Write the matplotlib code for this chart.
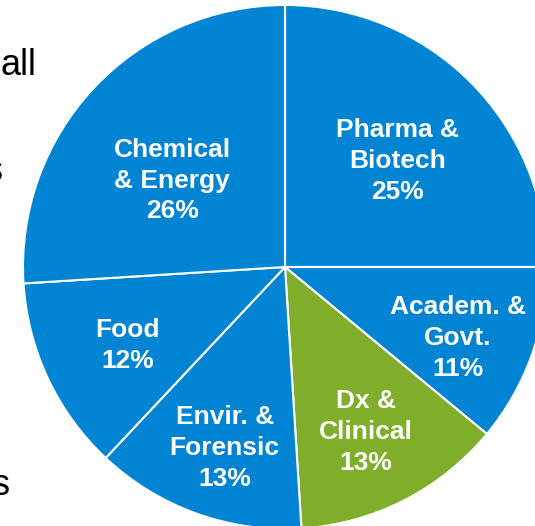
import matplotlib
matplotlib.use("Agg")
import matplotlib.pyplot as plt

sectors = ["Pharma &\nBiotech", "Academ. &\nGovt.", "Dx &\nClinical",
           "Envir. &\nForensic", "Food", "Chemical\n& Energy"]
shares = [25, 11, 13, 13, 12, 26]
blue = "#0084D3"
green = "#80AD2A"
colors = [blue, blue, green, blue, blue, blue]
# label centres, in units of the pie radius
label_xy = [(0.43, 0.405), (0.66, -0.27), (0.31, -0.63),
            (-0.23, -0.69), (-0.60, -0.30), (-0.43, 0.33)]

plt.rcParams['font.family'] = ['Liberation Sans', 'DejaVu Sans']

W, H = 535, 526
fig = plt.figure(figsize=(W / 100, H / 100), dpi=100)
cx, cy, R = 285, 267, 262
ax = fig.add_axes([(cx - R) / W, (H - cy - R) / H, 2 * R / W, 2 * R / H])

wedges, _ = ax.pie(shares, colors=colors, startangle=90, counterclock=False,
                   wedgeprops=dict(edgecolor="white", linewidth=1.5))
ax.set_xlim(-1, 1)
ax.set_ylim(-1, 1)
ax.set_aspect("equal")
ax.axis("off")

for name, pct, (x, y) in zip(sectors, shares, label_xy):
    ax.text(x, y, f"{name}\n{pct}%", ha="center", va="center",
            color="white", fontsize=19, fontweight="bold", linespacing=1.36)

# fragments of slide text cut off at the left edge
fig.text(0, 1 - 75 / H, "all", fontsize=26, va="baseline", ha="left")
fig.text(3 / W, 1 - 181 / H, "s", fontsize=26, va="baseline", ha="right")
fig.text(10 / W, 1 - 495 / H, "s", fontsize=26, va="baseline", ha="right")

fig.savefig("out.png", dpi=100)
